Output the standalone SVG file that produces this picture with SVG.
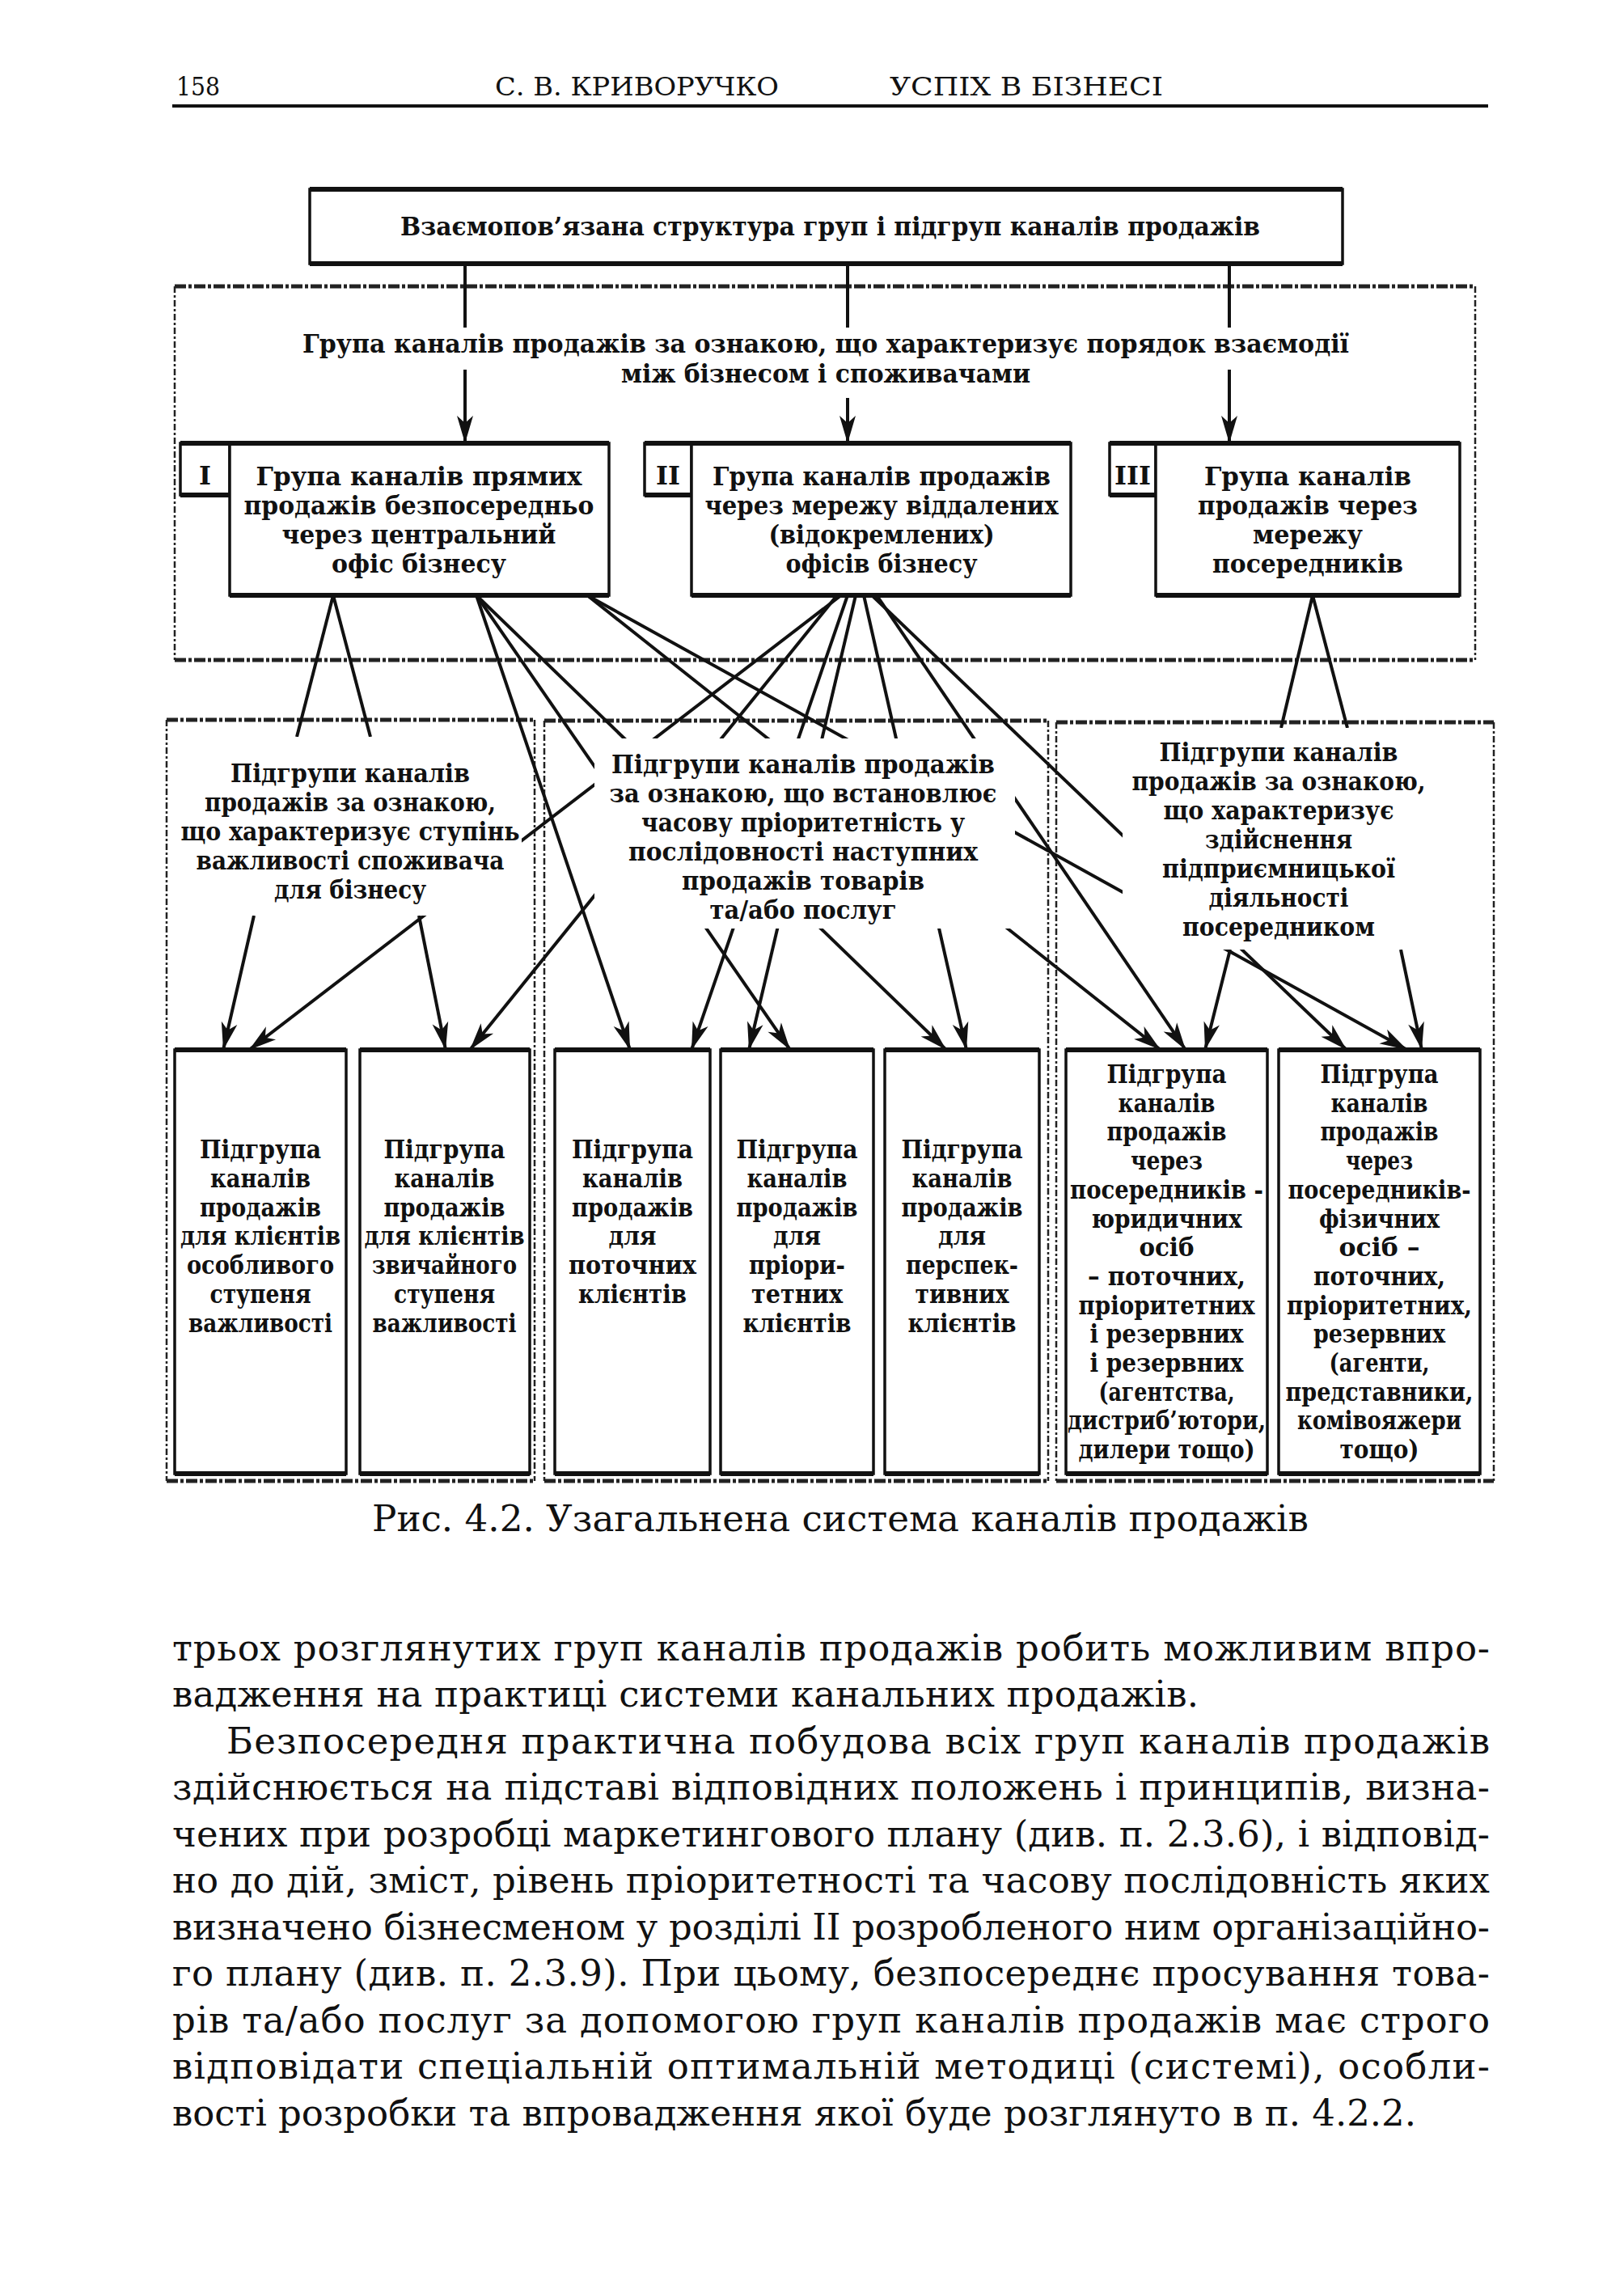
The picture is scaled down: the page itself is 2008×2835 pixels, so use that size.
<svg xmlns="http://www.w3.org/2000/svg" width="2008" height="2835" viewBox="0 0 2008 2835">
<defs>
<marker id="ah" viewBox="-36 -12 38 24" refX="0" refY="0" markerWidth="38" markerHeight="24" markerUnits="userSpaceOnUse" orient="auto">
<path d="M0,0 L-34,-10 L-25,0 L-34,10 Z" fill="#111"/>
</marker>
</defs>
<style>
.ln{stroke:#111;stroke-width:4;fill:none}
.ar{marker-end:url(#ah)}
.box{fill:#fff;stroke:#111;stroke-width:3.5}
.edge{stroke:#111;stroke-width:6}
.dside{stroke:#222;stroke-width:2.5;stroke-dasharray:8 3 3 3;fill:none}
.dtb{stroke:#222;stroke-width:5;stroke-dasharray:14 3 4 3;fill:none}
.occ{fill:#fff}
.t{font-family:"DejaVu Serif","Liberation Serif",serif;font-weight:bold;font-size:32px;fill:#111}
.tc{font-family:"DejaVu Serif","Liberation Serif",serif;font-weight:bold;font-size:32px;fill:#111;text-anchor:middle}
.b{font-family:"DejaVu Serif","Liberation Serif",serif;font-size:45px;fill:#111}
.h{font-family:"DejaVu Serif","Liberation Serif",serif;font-size:32px;fill:#111}
</style>
<rect width="2008" height="2835" fill="#fff"/>

<g id="header">
<text class="h" x="218" y="118" textLength="54" lengthAdjust="spacingAndGlyphs">158</text>
<text class="h" x="612" y="118" textLength="351" lengthAdjust="spacingAndGlyphs">С. В. КРИВОРУЧКО</text>
<text class="h" x="1100" y="118" textLength="338" lengthAdjust="spacingAndGlyphs">УСПІХ  В  БІЗНЕСІ</text>
<line x1="213" y1="131" x2="1840" y2="131" stroke="#111" stroke-width="4"/>
</g>

<g id="frames">
<g id="frame-groups">
<line class="dtb" x1="216" y1="354" x2="1824" y2="354"/>
<line class="dtb" x1="216" y1="816" x2="1824" y2="816"/>
<line class="dside" x1="216" y1="354" x2="216" y2="816"/>
<line class="dside" x1="1824" y1="354" x2="1824" y2="816"/>
</g>
<g id="frame-left">
<line class="dtb" x1="206" y1="890" x2="661" y2="890"/>
<line class="dtb" x1="206" y1="1831" x2="661" y2="1831"/>
<line class="dside" x1="206" y1="890" x2="206" y2="1831"/>
<line class="dside" x1="661" y1="890" x2="661" y2="1831"/>
</g>
<g id="frame-mid">
<line class="dtb" x1="673" y1="891" x2="1296" y2="891"/>
<line class="dtb" x1="673" y1="1831" x2="1296" y2="1831"/>
<line class="dside" x1="673" y1="891" x2="673" y2="1831"/>
<line class="dside" x1="1296" y1="891" x2="1296" y2="1831"/>
</g>
<g id="frame-right">
<line class="dtb" x1="1306" y1="893" x2="1847" y2="893"/>
<line class="dtb" x1="1306" y1="1831" x2="1847" y2="1831"/>
<line class="dside" x1="1306" y1="893" x2="1306" y2="1831"/>
<line class="dside" x1="1847" y1="893" x2="1847" y2="1831"/>
</g>
</g>

<g id="connectors">
<line class="ln ar" x1="575" y1="326" x2="575" y2="548"/>
<line class="ln ar" x1="1048" y1="326" x2="1048" y2="548"/>
<line class="ln ar" x1="1520" y1="326" x2="1520" y2="548"/>
<line class="ln" x1="412" y1="736" x2="367" y2="911"/>
<line class="ln" x1="412" y1="736" x2="458" y2="911"/>
<line class="ln ar" x1="589" y1="736" x2="779" y2="1298"/>
<line class="ln ar" x1="589" y1="736" x2="977" y2="1298"/>
<line class="ln ar" x1="589" y1="736" x2="1170" y2="1298"/>
<line class="ln ar" x1="726" y1="736" x2="1435" y2="1298"/>
<line class="ln ar" x1="726" y1="736" x2="1740" y2="1298"/>
<line class="ln ar" x1="1040" y1="736" x2="308" y2="1298"/>
<line class="ln ar" x1="1035" y1="736" x2="581" y2="1298"/>
<line class="ln ar" x1="1048" y1="736" x2="855" y2="1298"/>
<line class="ln ar" x1="1058" y1="736" x2="926" y2="1298"/>
<line class="ln ar" x1="1068" y1="736" x2="1195" y2="1298"/>
<line class="ln ar" x1="1084" y1="736" x2="1466" y2="1298"/>
<line class="ln ar" x1="1078" y1="736" x2="1665" y2="1298"/>
<line class="ln" x1="1623" y1="736" x2="1584" y2="900"/>
<line class="ln" x1="1623" y1="736" x2="1666" y2="900"/>
<line class="ln ar" x1="1521" y1="1174" x2="1490" y2="1298"/>
<line class="ln ar" x1="1732" y1="1174" x2="1758" y2="1298"/>
<line class="ln ar" x1="314" y1="1132" x2="276" y2="1298"/>
<line class="ln ar" x1="518" y1="1132" x2="551" y2="1298"/>
</g>

<g id="masks">
<rect class="occ" x="365" y="405" width="1315" height="52"/>
<rect class="occ" x="755" y="457" width="530" height="35"/>
<rect class="occ" x="212" y="911" width="433" height="221"/>
<rect class="occ" x="735" y="913" width="520" height="235"/>
<rect class="occ" x="1388" y="900" width="397" height="274"/>
</g>

<g id="n-root">
<rect class="box" x="383" y="234" width="1277" height="92"/>
<line class="edge" x1="383" y1="234" x2="1660" y2="234"/>
<line class="edge" x1="383" y1="326" x2="1660" y2="326"/>
<text class="t" x="495" y="291" textLength="1063" lengthAdjust="spacingAndGlyphs">Взаємопов’язана структура груп і підгруп каналів продажів</text>
</g>

<g id="n-group-criterion">
<text class="t" x="374" y="436" textLength="1294" lengthAdjust="spacingAndGlyphs">Група каналів продажів за ознакою, що характеризує порядок взаємодії</text>
<text class="t" x="768" y="473" textLength="506" lengthAdjust="spacingAndGlyphs">між бізнесом і споживачами</text>
</g>

<g id="n-group-I">
<rect class="box" x="223" y="548" width="61" height="64"/>
<rect class="box" x="284" y="548" width="469" height="188"/>
<line class="edge" x1="223" y1="548" x2="753" y2="548"/>
<line class="edge" x1="284" y1="736" x2="753" y2="736"/>
<line class="edge" x1="223" y1="612" x2="284" y2="612"/>
<text class="tc" x="253.5" y="599">I</text>
<text class="t" x="316.5" y="600" textLength="403" lengthAdjust="spacingAndGlyphs">Група каналів прямих</text>
<text class="t" x="301.5" y="636" textLength="433" lengthAdjust="spacingAndGlyphs">продажів безпосередньо</text>
<text class="t" x="348.5" y="672" textLength="339" lengthAdjust="spacingAndGlyphs">через центральний</text>
<text class="t" x="410" y="708" textLength="216" lengthAdjust="spacingAndGlyphs">офіс бізнесу</text>
</g>

<g id="n-group-II">
<rect class="box" x="797" y="548" width="58" height="64"/>
<rect class="box" x="855" y="548" width="469" height="188"/>
<line class="edge" x1="797" y1="548" x2="1324" y2="548"/>
<line class="edge" x1="855" y1="736" x2="1324" y2="736"/>
<line class="edge" x1="797" y1="612" x2="855" y2="612"/>
<text class="tc" x="826" y="599">II</text>
<text class="t" x="881" y="600" textLength="418" lengthAdjust="spacingAndGlyphs">Група каналів продажів</text>
<text class="t" x="871.5" y="636" textLength="437" lengthAdjust="spacingAndGlyphs">через мережу віддалених</text>
<text class="t" x="950.5" y="672" textLength="279" lengthAdjust="spacingAndGlyphs">(відокремлених)</text>
<text class="t" x="971.5" y="708" textLength="237" lengthAdjust="spacingAndGlyphs">офісів бізнесу</text>
</g>

<g id="n-group-III">
<rect class="box" x="1372" y="548" width="57" height="64"/>
<rect class="box" x="1429" y="548" width="376" height="188"/>
<line class="edge" x1="1372" y1="548" x2="1805" y2="548"/>
<line class="edge" x1="1429" y1="736" x2="1805" y2="736"/>
<line class="edge" x1="1372" y1="612" x2="1429" y2="612"/>
<text class="tc" x="1400.5" y="599">III</text>
<text class="t" x="1489" y="600" textLength="256" lengthAdjust="spacingAndGlyphs">Група каналів</text>
<text class="t" x="1481" y="636" textLength="272" lengthAdjust="spacingAndGlyphs">продажів через</text>
<text class="t" x="1549" y="672" textLength="136" lengthAdjust="spacingAndGlyphs">мережу</text>
<text class="t" x="1499" y="708" textLength="236" lengthAdjust="spacingAndGlyphs">посередників</text>
</g>

<g id="n-sub-left">
<text class="t" x="285" y="967" textLength="296" lengthAdjust="spacingAndGlyphs">Підгрупи каналів</text>
<text class="t" x="253" y="1003" textLength="360" lengthAdjust="spacingAndGlyphs">продажів за ознакою,</text>
<text class="t" x="223.5" y="1039" textLength="419" lengthAdjust="spacingAndGlyphs">що характеризує ступінь</text>
<text class="t" x="242.5" y="1075" textLength="381" lengthAdjust="spacingAndGlyphs">важливості споживача</text>
<text class="t" x="339" y="1111" textLength="188" lengthAdjust="spacingAndGlyphs">для бізнесу</text>
</g>

<g id="n-sub-mid">
<text class="t" x="756" y="956" textLength="474" lengthAdjust="spacingAndGlyphs">Підгрупи каналів продажів</text>
<text class="t" x="753.5" y="992" textLength="479" lengthAdjust="spacingAndGlyphs">за ознакою, що встановлює</text>
<text class="t" x="793" y="1028" textLength="400" lengthAdjust="spacingAndGlyphs">часову пріоритетність у</text>
<text class="t" x="777" y="1064" textLength="432" lengthAdjust="spacingAndGlyphs">послідовності наступних</text>
<text class="t" x="843" y="1100" textLength="300" lengthAdjust="spacingAndGlyphs">продажів товарів</text>
<text class="t" x="877.5" y="1136" textLength="231" lengthAdjust="spacingAndGlyphs">та/або послуг</text>
</g>

<g id="n-sub-right">
<text class="t" x="1433.5" y="941" textLength="295" lengthAdjust="spacingAndGlyphs">Підгрупи каналів</text>
<text class="t" x="1399.5" y="977" textLength="363" lengthAdjust="spacingAndGlyphs">продажів за ознакою,</text>
<text class="t" x="1438.5" y="1013" textLength="285" lengthAdjust="spacingAndGlyphs">що характеризує</text>
<text class="t" x="1490" y="1049" textLength="182" lengthAdjust="spacingAndGlyphs">здійснення</text>
<text class="t" x="1437" y="1085" textLength="288" lengthAdjust="spacingAndGlyphs">підприємницької</text>
<text class="t" x="1494.5" y="1121" textLength="173" lengthAdjust="spacingAndGlyphs">діяльності</text>
<text class="t" x="1462" y="1157" textLength="238" lengthAdjust="spacingAndGlyphs">посередником</text>
</g>

<g id="n-leaf-1">
<rect class="box" x="216" y="1298" width="212" height="524"/>
<line class="edge" x1="216" y1="1298" x2="428" y2="1298"/>
<line class="edge" x1="216" y1="1822" x2="428" y2="1822"/>
<text class="t" x="247" y="1432" textLength="150" lengthAdjust="spacingAndGlyphs">Підгрупа</text>
<text class="t" x="260" y="1468" textLength="124" lengthAdjust="spacingAndGlyphs">каналів</text>
<text class="t" x="247" y="1504" textLength="150" lengthAdjust="spacingAndGlyphs">продажів</text>
<text class="t" x="223" y="1539" textLength="198" lengthAdjust="spacingAndGlyphs">для клієнтів</text>
<text class="t" x="231" y="1575" textLength="182" lengthAdjust="spacingAndGlyphs">особливого</text>
<text class="t" x="259.5" y="1611" textLength="125" lengthAdjust="spacingAndGlyphs">ступеня</text>
<text class="t" x="233" y="1647" textLength="178" lengthAdjust="spacingAndGlyphs">важливості</text>
</g>

<g id="n-leaf-2">
<rect class="box" x="445" y="1298" width="210" height="524"/>
<line class="edge" x1="445" y1="1298" x2="655" y2="1298"/>
<line class="edge" x1="445" y1="1822" x2="655" y2="1822"/>
<text class="t" x="474.5" y="1432" textLength="150" lengthAdjust="spacingAndGlyphs">Підгрупа</text>
<text class="t" x="487.5" y="1468" textLength="124" lengthAdjust="spacingAndGlyphs">каналів</text>
<text class="t" x="474.5" y="1504" textLength="150" lengthAdjust="spacingAndGlyphs">продажів</text>
<text class="t" x="450.5" y="1539" textLength="198" lengthAdjust="spacingAndGlyphs">для клієнтів</text>
<text class="t" x="460" y="1575" textLength="179" lengthAdjust="spacingAndGlyphs">звичайного</text>
<text class="t" x="487" y="1611" textLength="125" lengthAdjust="spacingAndGlyphs">ступеня</text>
<text class="t" x="460.5" y="1647" textLength="178" lengthAdjust="spacingAndGlyphs">важливості</text>
</g>

<g id="n-leaf-3">
<rect class="box" x="686" y="1298" width="192" height="524"/>
<line class="edge" x1="686" y1="1298" x2="878" y2="1298"/>
<line class="edge" x1="686" y1="1822" x2="878" y2="1822"/>
<text class="t" x="707" y="1432" textLength="150" lengthAdjust="spacingAndGlyphs">Підгрупа</text>
<text class="t" x="720" y="1468" textLength="124" lengthAdjust="spacingAndGlyphs">каналів</text>
<text class="t" x="707" y="1504" textLength="150" lengthAdjust="spacingAndGlyphs">продажів</text>
<text class="t" x="752.5" y="1539" textLength="59" lengthAdjust="spacingAndGlyphs">для</text>
<text class="t" x="703" y="1575" textLength="158" lengthAdjust="spacingAndGlyphs">поточних</text>
<text class="t" x="715" y="1611" textLength="134" lengthAdjust="spacingAndGlyphs">клієнтів</text>
</g>

<g id="n-leaf-4">
<rect class="box" x="891" y="1298" width="189" height="524"/>
<line class="edge" x1="891" y1="1298" x2="1080" y2="1298"/>
<line class="edge" x1="891" y1="1822" x2="1080" y2="1822"/>
<text class="t" x="910.5" y="1432" textLength="150" lengthAdjust="spacingAndGlyphs">Підгрупа</text>
<text class="t" x="923.5" y="1468" textLength="124" lengthAdjust="spacingAndGlyphs">каналів</text>
<text class="t" x="910.5" y="1504" textLength="150" lengthAdjust="spacingAndGlyphs">продажів</text>
<text class="t" x="956" y="1539" textLength="59" lengthAdjust="spacingAndGlyphs">для</text>
<text class="t" x="926" y="1575" textLength="119" lengthAdjust="spacingAndGlyphs">пріори-</text>
<text class="t" x="929" y="1611" textLength="113" lengthAdjust="spacingAndGlyphs">тетних</text>
<text class="t" x="918.5" y="1647" textLength="134" lengthAdjust="spacingAndGlyphs">клієнтів</text>
</g>

<g id="n-leaf-5">
<rect class="box" x="1094" y="1298" width="191" height="524"/>
<line class="edge" x1="1094" y1="1298" x2="1285" y2="1298"/>
<line class="edge" x1="1094" y1="1822" x2="1285" y2="1822"/>
<text class="t" x="1114.5" y="1432" textLength="150" lengthAdjust="spacingAndGlyphs">Підгрупа</text>
<text class="t" x="1127.5" y="1468" textLength="124" lengthAdjust="spacingAndGlyphs">каналів</text>
<text class="t" x="1114.5" y="1504" textLength="150" lengthAdjust="spacingAndGlyphs">продажів</text>
<text class="t" x="1160" y="1539" textLength="59" lengthAdjust="spacingAndGlyphs">для</text>
<text class="t" x="1120" y="1575" textLength="139" lengthAdjust="spacingAndGlyphs">перспек-</text>
<text class="t" x="1131.5" y="1611" textLength="116" lengthAdjust="spacingAndGlyphs">тивних</text>
<text class="t" x="1122.5" y="1647" textLength="134" lengthAdjust="spacingAndGlyphs">клієнтів</text>
</g>

<g id="n-leaf-6">
<rect class="box" x="1318" y="1298" width="249" height="524"/>
<line class="edge" x1="1318" y1="1298" x2="1567" y2="1298"/>
<line class="edge" x1="1318" y1="1822" x2="1567" y2="1822"/>
<text class="t" x="1368.5" y="1339" textLength="148" lengthAdjust="spacingAndGlyphs">Підгрупа</text>
<text class="t" x="1382.5" y="1375" textLength="120" lengthAdjust="spacingAndGlyphs">каналів</text>
<text class="t" x="1368.5" y="1410" textLength="148" lengthAdjust="spacingAndGlyphs">продажів</text>
<text class="t" x="1398" y="1446" textLength="89" lengthAdjust="spacingAndGlyphs">через</text>
<text class="t" x="1323" y="1482" textLength="239" lengthAdjust="spacingAndGlyphs">посередників -</text>
<text class="t" x="1349.5" y="1518" textLength="186" lengthAdjust="spacingAndGlyphs">юридичних</text>
<text class="t" x="1408.5" y="1553" textLength="68" lengthAdjust="spacingAndGlyphs">осіб</text>
<text class="t" x="1345" y="1589" textLength="195" lengthAdjust="spacingAndGlyphs">– поточних,</text>
<text class="t" x="1333.5" y="1625" textLength="218" lengthAdjust="spacingAndGlyphs">пріоритетних</text>
<text class="t" x="1347.5" y="1660" textLength="190" lengthAdjust="spacingAndGlyphs">і резервних</text>
<text class="t" x="1347.5" y="1696" textLength="190" lengthAdjust="spacingAndGlyphs">і резервних</text>
<text class="t" x="1358.5" y="1732" textLength="168" lengthAdjust="spacingAndGlyphs">(агентства,</text>
<text class="t" x="1320" y="1767" textLength="245" lengthAdjust="spacingAndGlyphs">дистриб’ютори,</text>
<text class="t" x="1333.5" y="1803" textLength="218" lengthAdjust="spacingAndGlyphs">дилери тощо)</text>
</g>

<g id="n-leaf-7">
<rect class="box" x="1581" y="1298" width="249" height="524"/>
<line class="edge" x1="1581" y1="1298" x2="1830" y2="1298"/>
<line class="edge" x1="1581" y1="1822" x2="1830" y2="1822"/>
<text class="t" x="1632.5" y="1339" textLength="146" lengthAdjust="spacingAndGlyphs">Підгрупа</text>
<text class="t" x="1645.5" y="1375" textLength="120" lengthAdjust="spacingAndGlyphs">каналів</text>
<text class="t" x="1632.5" y="1410" textLength="146" lengthAdjust="spacingAndGlyphs">продажів</text>
<text class="t" x="1664" y="1446" textLength="83" lengthAdjust="spacingAndGlyphs">через</text>
<text class="t" x="1592.5" y="1482" textLength="226" lengthAdjust="spacingAndGlyphs">посередників-</text>
<text class="t" x="1631" y="1518" textLength="149" lengthAdjust="spacingAndGlyphs">фізичних</text>
<text class="t" x="1655.5" y="1553" textLength="100" lengthAdjust="spacingAndGlyphs">осіб  –</text>
<text class="t" x="1624" y="1589" textLength="163" lengthAdjust="spacingAndGlyphs">поточних,</text>
<text class="t" x="1591" y="1625" textLength="229" lengthAdjust="spacingAndGlyphs">пріоритетних,</text>
<text class="t" x="1624" y="1660" textLength="163" lengthAdjust="spacingAndGlyphs">резервних</text>
<text class="t" x="1643.5" y="1696" textLength="124" lengthAdjust="spacingAndGlyphs">(агенти,</text>
<text class="t" x="1589.5" y="1732" textLength="232" lengthAdjust="spacingAndGlyphs">представники,</text>
<text class="t" x="1604" y="1767" textLength="203" lengthAdjust="spacingAndGlyphs">комівояжери</text>
<text class="t" x="1656.5" y="1803" textLength="98" lengthAdjust="spacingAndGlyphs">тощо)</text>
</g>

<g id="caption">
<text class="b" x="460" y="1893" textLength="1158" lengthAdjust="spacingAndGlyphs">Рис. 4.2. Узагальнена система каналів продажів</text>
</g>

<g id="body">
<text class="b" x="213" y="2053" textLength="1629" lengthAdjust="spacing">трьох розглянутих груп каналів продажів робить можливим впро-</text>
<text class="b" x="213" y="2110" textLength="1269" lengthAdjust="spacing">вадження на практиці системи канальних продажів.</text>
<text class="b" x="280" y="2168" textLength="1562" lengthAdjust="spacing">Безпосередня практична побудова всіх груп каналів продажів</text>
<text class="b" x="213" y="2225" textLength="1629" lengthAdjust="spacing">здійснюється на підставі відповідних положень і принципів, визна-</text>
<text class="b" x="213" y="2283" textLength="1629" lengthAdjust="spacing">чених при розробці маркетингового плану (див. п. 2.3.6), і відповід-</text>
<text class="b" x="213" y="2340" textLength="1629" lengthAdjust="spacing">но до дій, зміст, рівень пріоритетності та часову послідовність яких</text>
<text class="b" x="213" y="2398" textLength="1629" lengthAdjust="spacing">визначено бізнесменом у розділі II розробленого ним організаційно-</text>
<text class="b" x="213" y="2455" textLength="1629" lengthAdjust="spacing">го плану (див. п. 2.3.9). При цьому, безпосереднє просування това-</text>
<text class="b" x="213" y="2513" textLength="1629" lengthAdjust="spacing">рів та/або послуг за допомогою груп каналів продажів має строго</text>
<text class="b" x="213" y="2570" textLength="1629" lengthAdjust="spacing">відповідати спеціальній оптимальній методиці (системі), особли-</text>
<text class="b" x="213" y="2628" textLength="1538" lengthAdjust="spacing">вості розробки та впровадження якої буде розглянуто в п. 4.2.2.</text>
</g>
</svg>
